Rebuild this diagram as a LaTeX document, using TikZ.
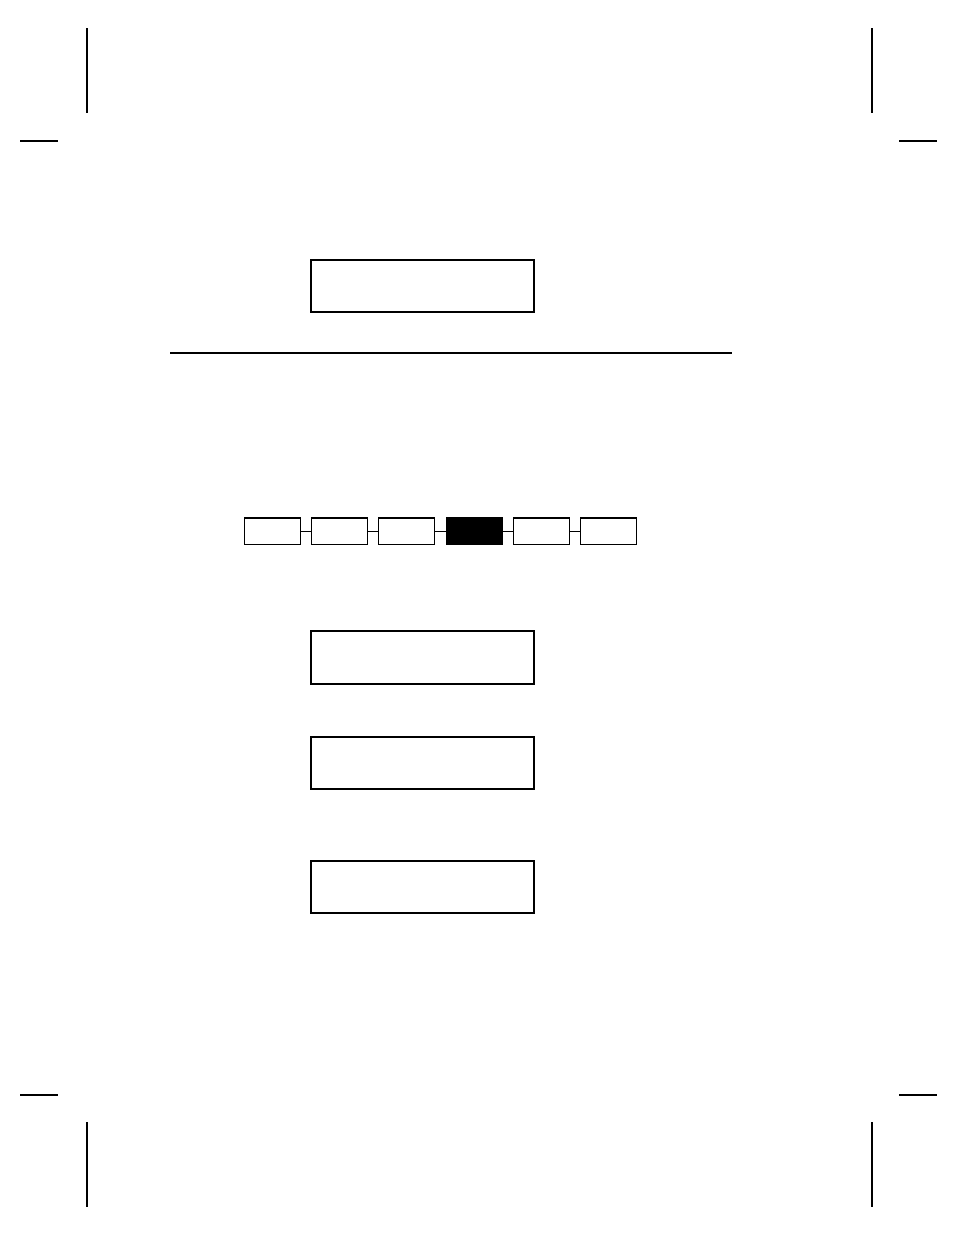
\documentclass[tikz,border=0pt]{standalone}
\begin{document}
\begin{tikzpicture}[x=1pt,y=-1pt,
  bigbox/.style={draw=black,line width=2pt,fill=white},
  smallbox/.style={draw=black,line width=1.2pt,fill=white},
  darkbox/.style={draw=black,line width=1.2pt,fill=black},
  link/.style={line width=1.2pt},
  cropmark/.style={line width=2pt}]
\useasboundingbox (0,0) rectangle (954,1235);
% crop marks
\draw[cropmark] (86.5,28) -- (86.5,112.5);
\draw[cropmark] (20,140.5) -- (58,140.5);
\draw[cropmark] (872,28) -- (872,112.5);
\draw[cropmark] (899,140.5) -- (937,140.5);
\draw[cropmark] (20,1094.5) -- (58,1094.5);
\draw[cropmark] (86.5,1122) -- (86.5,1206.5);
\draw[cropmark] (899,1094.5) -- (937,1094.5);
\draw[cropmark] (872,1122) -- (872,1206.5);
% big boxes
\draw[bigbox] (311,260) rectangle (534,312);
\draw[line width=1.1pt] (170,353) -- (732,353);
\draw[bigbox] (311,631) rectangle (534,684);
\draw[bigbox] (311,737) rectangle (534,789);
\draw[bigbox] (311,861) rectangle (534,913);
% chain
\node[smallbox,minimum width=55.5pt,minimum height=26.5pt,inner sep=0pt,anchor=center] (s1) at (272.5,531.2) {};
\node[smallbox,minimum width=55.5pt,minimum height=26.5pt,inner sep=0pt,anchor=center] (s2) at (339.5,531.2) {};
\node[smallbox,minimum width=56pt,minimum height=26.5pt,inner sep=0pt,anchor=center] (s3) at (406.8,531.2) {};
\node[darkbox,minimum width=55.7pt,minimum height=26.5pt,inner sep=0pt,anchor=center] (s4) at (474.7,531.2) {};
\node[smallbox,minimum width=55.4pt,minimum height=26.5pt,inner sep=0pt,anchor=center] (s5) at (541.5,531.2) {};
\node[smallbox,minimum width=56pt,minimum height=26.5pt,inner sep=0pt,anchor=center] (s6) at (608.8,531.2) {};
\draw[link] (s1.east) -- (s2.west);
\draw[link] (s2.east) -- (s3.west);
\draw[link] (s3.east) -- (s4.west);
\draw[link] (s4.east) -- (s5.west);
\draw[link] (s5.east) -- (s6.west);
\end{tikzpicture}
\end{document}
